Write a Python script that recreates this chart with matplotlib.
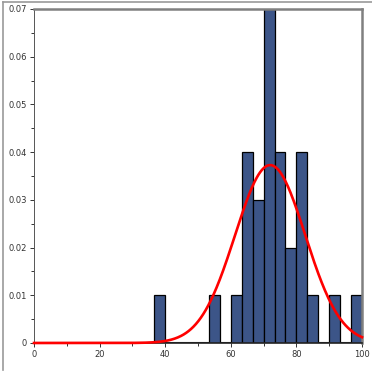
import numpy as np
import matplotlib
matplotlib.use("Agg")
import matplotlib.pyplot as plt
from matplotlib.lines import Line2D

# Histogram data (density), bins of width 10/3 from 36.67 to 100
bin_edges = [100 - 19 * 10 / 3 + i * 10 / 3 for i in range(20)]
densities = [0.01, 0, 0, 0, 0, 0.01, 0, 0.01, 0.04, 0.03,
             0.07, 0.04, 0.02, 0.04, 0.01, 0, 0.01, 0, 0.01]
fit_mean = 72.0
fit_sd = 10.7

x_ticks = [0, 20, 40, 60, 80, 100]
x_tick_labels = ["0", "20", "40", "60", "80", "100"]
y_ticks = [0, 0.01, 0.02, 0.03, 0.04, 0.05, 0.06, 0.07]
y_tick_labels = ["0", "0.01", "0.02", "0.03", "0.04", "0.05", "0.06", "0.07"]

fig = plt.figure(figsize=(3.72, 3.72), dpi=100)
ax = fig.add_axes([34 / 372, 29 / 372, 328 / 372, 334 / 372])

edges = np.array(bin_edges)
ax.bar(edges[:-1], densities, width=np.diff(edges), align="edge",
       color="#3c5588", edgecolor="black", linewidth=0.9, zorder=2)

xs = np.linspace(0, 100, 400)
ys = np.exp(-0.5 * ((xs - fit_mean) / fit_sd) ** 2) / (fit_sd * np.sqrt(2 * np.pi))
ax.plot(xs, ys, color="#ff0000", linewidth=1.9, zorder=3, clip_on=False)

ax.axhline(0, color="#222222", linewidth=1.5, zorder=1.5)

ax.set_xlim(0, 100)
ax.set_ylim(0, 0.07)
ax.set_xticks(x_ticks)
ax.set_xticklabels(x_tick_labels)
ax.set_yticks(y_ticks)
ax.set_yticklabels(y_tick_labels)
ax.set_xticks([10, 30, 50, 70, 90], minor=True)
ax.set_yticks(np.arange(0.005, 0.07, 0.01), minor=True)
ax.tick_params(axis="both", which="major", labelsize=6, labelcolor="#333333",
               color="#333333", length=3, width=0.7, pad=2)
ax.tick_params(axis="both", which="minor", color="#333333", length=2, width=0.7)

for side in ["top", "right"]:
    ax.spines[side].set_color("#808080")
    ax.spines[side].set_linewidth(1.8)
ax.spines["left"].set_color("#555555")
ax.spines["left"].set_linewidth(0.7)
ax.spines["bottom"].set_color("#222222")
ax.spines["bottom"].set_linewidth(1.2)

# outer gray frame lines (left and top)
fig.add_artist(Line2D([3 / 372, 3 / 372], [2 / 372, 370 / 372],
                      transform=fig.transFigure, color="#999999", linewidth=1.2))
fig.add_artist(Line2D([3 / 372, 1.0], [370 / 372, 370 / 372],
                      transform=fig.transFigure, color="#999999", linewidth=1.2))

fig.savefig("out.png", dpi=100)
